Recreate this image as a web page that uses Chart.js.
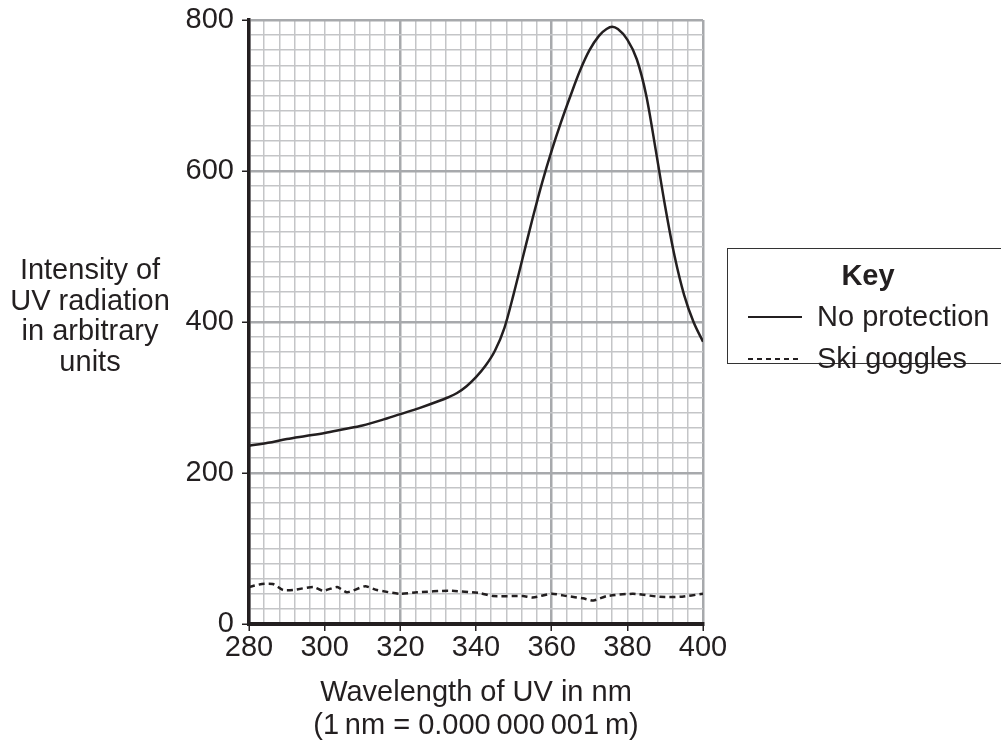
<!DOCTYPE html>
<html>
<head>
<meta charset="utf-8">
<script src="https://cdn.jsdelivr.net/npm/chart.js@4.4.1/dist/chart.umd.min.js"></script>
<style>
  html, body { margin: 0; padding: 0; background: #fff; }
  #wrap { width: 1001px; height: 745px; position: relative; }
</style>
</head>
<body>
<div id="wrap"><canvas id="uvChart" width="1001" height="745"></canvas></div>
<script>
// wavelength (nm) and intensity readings
const noProtX = [280, 285, 290, 295, 300, 305, 310, 315, 320, 325, 330, 332.5, 335, 337.5, 340, 342.5, 345, 347.5, 350, 352.5, 355, 357.5, 360, 362.5, 365, 367.5, 370, 372.5, 374.5, 376, 377.5, 380, 382.5, 385, 387.5, 390, 392.5, 395, 397.5, 400];
const noProtY = [236, 240, 245, 249, 253, 258, 263, 270, 278, 286, 295, 300, 306, 315, 327, 342, 362, 392, 438, 488, 538, 585, 627, 665, 700, 733, 760, 779, 788, 791, 788, 774, 748, 700, 628, 553, 487, 436, 400, 374];

const gogglesX = [280, 283.4, 286.3, 289, 291.6, 297, 299.6, 303.3, 305.9, 310.7, 313.8, 320, 324.4, 333, 341, 344.5, 352.4, 355, 360, 364, 368.3, 371, 374.6, 381.5, 388.6, 393.9, 400];
const gogglesY = [49, 53, 53, 45, 45, 49, 44, 49, 42, 50, 45, 40, 42, 44, 41, 37, 37, 35, 40, 37, 34, 31, 37, 40, 36, 36, 40];

const xTickLabels = [280, 300, 320, 340, 360, 380, 400];
const yTickLabels = [0, 200, 400, 600, 800];

const seriesNames = ["No protection", "Ski goggles"];

const FONT = "'Liberation Sans', Arial, sans-serif";
const INK = "#231f20";

function toPoints(xs, ys) {
  return xs.map((x, i) => ({ x: x, y: ys[i] }));
}

// axis titles and the key box
const extraText = {
  id: "extraText",
  afterDraw(chart) {
    const ctx = chart.ctx;
    ctx.save();
    ctx.fillStyle = INK;
    ctx.font = "29px " + FONT;
    ctx.textAlign = "center";
    ctx.textBaseline = "middle";

    const yTitle = ["Intensity of", "UV radiation", "in arbitrary", "units"];
    yTitle.forEach((t, i) => ctx.fillText(t, 90, 271 + i * 30.5));

    const xMid = (chart.chartArea.left + chart.chartArea.right) / 2;
    ctx.fillText("Wavelength of UV in nm", xMid, 693);
    ctx.fillText("(1\u2009nm = 0.000\u2009000\u2009001\u2009m)", xMid, 726);

    // key
    ctx.strokeStyle = "#333";
    ctx.lineWidth = 1;
    ctx.strokeRect(727.5, 248.5, 280, 115);
    ctx.font = "bold 29px " + FONT;
    ctx.fillText("Key", 868, 277);

    ctx.font = "29px " + FONT;
    ctx.textAlign = "left";
    ctx.fillText(seriesNames[0], 817, 318);
    ctx.fillText(seriesNames[1], 817, 360);

    ctx.strokeStyle = INK;
    ctx.lineWidth = 2;
    ctx.beginPath();
    ctx.moveTo(748, 317);
    ctx.lineTo(802, 317);
    ctx.stroke();

    ctx.setLineDash([5, 4]);
    ctx.beginPath();
    ctx.moveTo(748, 359);
    ctx.lineTo(802, 359);
    ctx.stroke();
    ctx.restore();
  }
};

const ctx = document.getElementById("uvChart").getContext("2d");
const uvChart = new Chart(ctx, {
  type: "line",
  data: {
    datasets: [
      {
        label: seriesNames[0],
        data: toPoints(noProtX, noProtY),
        borderColor: INK,
        borderWidth: 2.5,
        pointRadius: 0,
        cubicInterpolationMode: "monotone",
        fill: false,
      },
      {
        label: seriesNames[1],
        data: toPoints(gogglesX, gogglesY),
        borderColor: INK,
        borderWidth: 2.5,
        borderDash: [6, 4],
        pointRadius: 0,
        tension: 0.2,
        fill: false,
      },
    ],
  },
  options: {
    responsive: false,
    animation: false,
    layout: { padding: { top: 20, right: 298, left: 0, bottom: 0 } },
    plugins: {
      legend: { display: false },
      tooltip: { enabled: false },
    },
    scales: {
      x: {
        type: "linear",
        min: 280,
        max: 400,
        afterFit: (scale) => {
          scale.height = 121;
          scale.paddingLeft = 0;
          scale.paddingRight = 0;
        },
        ticks: {
          stepSize: 4,
          autoSkip: false,
          maxRotation: 0,
          maxTicksLimit: 100,
          padding: 0,
          color: INK,
          font: { family: FONT, size: 29 },
          callback: (v) => (xTickLabels.includes(Math.round(v)) && Math.abs(v - Math.round(v)) < 1e-6 ? String(Math.round(v)) : ""),
        },
        grid: {
          color: (c) => (Math.round(c.tick.value) % 40 === 0 ? "#a7a9ac" : "#c4c5c7"),
          lineWidth: (c) => (Math.round(c.tick.value) % 40 === 0 ? 2.5 : 1.5),
          tickLength: 7,
          tickColor: (c) => (xTickLabels.includes(Math.round(c.tick.value)) ? INK : "rgba(0,0,0,0)"),
          tickWidth: 1.5,
        },
        border: { display: true, color: INK, width: 4 },
      },
      y: {
        min: 0,
        max: 800,
        afterFit: (scale) => {
          scale.width = 249;
          scale.paddingTop = 0;
          scale.paddingBottom = 0;
        },
        ticks: {
          stepSize: 20,
          autoSkip: false,
          maxTicksLimit: 100,
          padding: 8,
          color: INK,
          font: { family: FONT, size: 29 },
          callback: (v) => (yTickLabels.includes(v) ? String(v) : ""),
        },
        grid: {
          color: (c) => (c.tick.value % 200 === 0 ? "#a7a9ac" : "#c4c5c7"),
          lineWidth: (c) => (c.tick.value % 200 === 0 ? 2.5 : 1.5),
          tickLength: 7,
          tickColor: (c) => (yTickLabels.includes(c.tick.value) ? INK : "rgba(0,0,0,0)"),
          tickWidth: 1.5,
        },
        border: { display: true, color: INK, width: 3.5 },
      },
    },
  },
  plugins: [extraText],
});
</script>
</body>
</html>
